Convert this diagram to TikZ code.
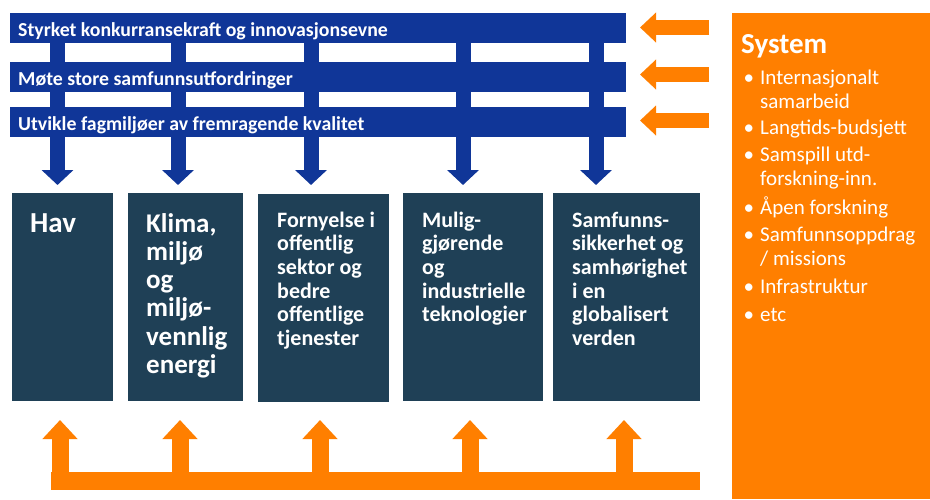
\documentclass[tikz,border=0pt]{standalone}
\usepackage{fontspec}
\setmainfont{Carlito}
\usetikzlibrary{arrows.meta}
\definecolor{barblue}{RGB}{16,54,152}
\definecolor{boxslate}{RGB}{31,64,86}
\definecolor{sysorange}{RGB}{255,127,0}
\begin{document}
\begin{tikzpicture}[x=1pt,y=-1pt,
  bar/.style={fill=barblue, draw=none, minimum width=616pt, minimum height=30pt, inner sep=0pt, anchor=north west},
  bartext/.style={text=white, font=\bfseries\fontsize{19.8}{21}\selectfont, anchor=base west, inner sep=0pt},
  slate/.style={fill=boxslate, draw=none, inner sep=0pt, anchor=north west, minimum height=208pt},
  bigtext/.style={text=white, font=\bfseries\fontsize{27}{28.3}\selectfont, anchor=base west, inner sep=0pt, align=left},
  smalltext/.style={text=white, font=\bfseries\fontsize{22}{23.7}\selectfont, anchor=base west, inner sep=0pt, align=left},
  bluearrow/.style={draw=barblue, line width=15pt, -{Triangle[width=31pt,length=15pt]}},
  leftarrow/.style={draw=sysorange, line width=15pt, -{Triangle[width=29pt,length=16pt]}},
  uparrow/.style={draw=sysorange, line width=17pt, -{Triangle[width=34pt,length=19pt]}},
  bullet/.style={text=white, font=\fontsize{21}{24.5}\selectfont, anchor=base west, inner sep=0pt, align=left},
]
\useasboundingbox (0,0) rectangle (930,499);
\fill[white] (0,0) rectangle (930,499);

% blue bars
\node[bar] (bar1) at (10,13) {};
\node[bar] (bar2) at (10,62) {};
\node[bar] (bar3) at (10,107) {};

% blue down arrows (under the bar texts)
\foreach \i/\x in {1/57.5,2/178,3/311,4/463,5/596}{
  \coordinate (d\i) at (\x,185);
  \draw[bluearrow] (d\i |- bar1.center) -- (d\i);
}

\node[bartext] (t1) at (18,36.5) {Styrket konkurransekraft og innovasjonsevne};
\node[bartext] (t2) at (18,85) {Møte store samfunnsutfordringer};
\node[bartext] (t3) at (18,130) {Utvikle fagmiljøer av fremragende kvalitet};

% dark boxes
\node[slate, minimum width=101pt] (b1) at (12,193) {};
\node[slate, minimum width=115pt] (b2) at (128,193) {};
\node[slate, minimum width=131pt] (b3) at (258,194) {};
\node[slate, minimum width=140pt] (b4) at (403,193) {};
\node[slate, minimum width=147pt] (b5) at (553,193) {};

% (base anchor of a multi-line node = baseline of its last line)
\node[bigtext, font=\bfseries\fontsize{29}{30}\selectfont] (h1) at (30,232) {Hav};
\node[bigtext] (h2) at (146,373.5) {Klima,\\miljø\\og\\miljø-\\vennlig\\energi};
\node[smalltext] (h3) at (277,345.5) {Fornyelse i\\offentlig\\sektor og\\bedre\\offentlige\\tjenester};
\node[smalltext] (h4) at (422,321.8) {Mulig-\\gjørende\\og\\industrielle\\teknologier};
\node[smalltext] (h5) at (572,345.5) {Samfunns-\\sikkerhet og\\samhørighet\\i en\\globalisert\\verden};

% orange system panel
\node[fill=sysorange, draw=none, inner sep=0pt, anchor=north west, minimum width=198pt, minimum height=486pt] (sys) at (732,13) {};
\node[text=white, font=\bfseries\fontsize{29}{30}\selectfont, anchor=base west, inner sep=0pt] (systitle) at (741,53) {System};
\node[bullet] (i1) at (760,108.5) {\llap{•\hspace{6pt}}Internasjonalt\\samarbeid};
\node[bullet] (i2) at (760,134) {\llap{•\hspace{6pt}}Langtids-budsjett};
\node[bullet] (i3) at (760,185.5) {\llap{•\hspace{6pt}}Samspill utd-\\forskning-inn.};
\node[bullet] (i4) at (760,214) {\llap{•\hspace{6pt}}Åpen forskning};
\node[bullet] (i5) at (760,265.5) {\llap{•\hspace{6pt}}Samfunnsoppdrag\\/ missions};
\node[bullet] (i6) at (760,293) {\llap{•\hspace{6pt}}Infrastruktur};
\node[bullet] (i7) at (760,321) {\llap{•\hspace{6pt}}etc};

% orange left arrows
\foreach \i/\y in {1/27.5,2/74.5,3/120.5}{
  \coordinate (ls\i) at (709,\y);
  \coordinate (le\i) at (640,\y);
  \draw[leftarrow] (ls\i) -- (le\i);
}

% bottom orange feedback
\coordinate (hl) at (51,481);
\coordinate (hr) at (700,481);
\draw[draw=sysorange, line width=18pt] (hl) -- (hr);
\foreach \i/\x in {1/60,2/180,3/320,4/470,5/624}{
  \coordinate (u\i) at (\x,420);
  \draw[uparrow] (u\i |- hl) -- (u\i);
}
\end{tikzpicture}
\end{document}
